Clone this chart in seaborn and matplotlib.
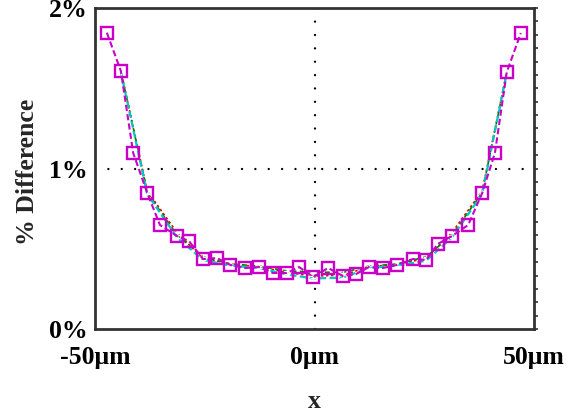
import matplotlib
matplotlib.use("Agg")
import matplotlib.pyplot as plt
import seaborn as sns
import pandas as pd
from matplotlib.ticker import MultipleLocator

sns.set_style("white")
plt.rcParams['font.family'] = ['Liberation Serif', 'DejaVu Serif']
plt.rcParams['font.weight'] = 'bold'

# Data (x in micrometres, y in %)
x_fine = [-47.3, -44.1, -41.3, -38.1, -35.2, -31.3, -28.6, -25.4, -22.2, -19.2,
          -15.8, -12.6, -9.5, -6.3, -3.5, -0.3, 3.1, 6.5, 9.5, 12.4,
          15.6, 18.8, 22.4, 25.4, 28.1, 31.3, 35.0, 38.2, 41.1, 43.8, 47.0]
magenta_y = [1.846, 1.607, 1.097, 0.847, 0.648, 0.579, 0.548, 0.436, 0.442, 0.399,
             0.380, 0.386, 0.349, 0.349, 0.386, 0.324, 0.380, 0.330, 0.343, 0.386,
             0.380, 0.399, 0.436, 0.430, 0.530, 0.579, 0.648, 0.847, 1.097, 1.601, 1.844]

x_coarse = [-44.1, -38.1, -31.3, -25.4, -19.2, -12.6, -6.3, -0.3,
            6.5, 12.4, 18.8, 25.4, 31.3, 38.2, 43.8]
red_y = [1.607, 0.860, 0.600, 0.440, 0.405, 0.388, 0.352, 0.330,
         0.335, 0.388, 0.402, 0.440, 0.600, 0.860, 1.601]
green_y = [1.607, 0.850, 0.585, 0.450, 0.405, 0.392, 0.362, 0.355,
           0.352, 0.392, 0.405, 0.450, 0.585, 0.850, 1.601]
cyan_y = [1.600, 0.840, 0.570, 0.430, 0.395, 0.380, 0.340, 0.315,
          0.320, 0.380, 0.395, 0.425, 0.570, 0.840, 1.595]

x_ticks = [-50, 0, 50]
x_tick_labels = ['-50μm', '0μm', '50μm']
y_ticks = [0, 1, 2]
y_tick_labels = ['0%', '1%', '2%']

df_fine = pd.DataFrame({'x': x_fine, 'magenta': magenta_y})
df_coarse = pd.DataFrame({'x': x_coarse, 'red': red_y, 'green': green_y, 'cyan': cyan_y})

fig = plt.figure(figsize=(5.82, 4.17), dpi=100)
ax = fig.add_axes([95/582, 1-329/417, (534-95)/582, (329-8)/417])

# dotted reference lines
dot = dict(color='black', lw=1.7, linestyle=(0, (0.01, 5.65)), dash_capstyle='round', zorder=1)
ax.axhline(1, **dot)
ax.axvline(0, **dot)

sns.lineplot(data=df_coarse, x='x', y='red', ax=ax, color='#ff0000', lw=1.2,
             linestyle=(0, (1.5, 1.5)), marker='+', markersize=4, mew=1.0, sort=False, zorder=3)
sns.lineplot(data=df_coarse, x='x', y='green', ax=ax, color='#008000', lw=1.2,
             linestyle=(0, (3, 2)), marker='+', markersize=4, mew=1.0, sort=False, zorder=3)
sns.lineplot(data=df_coarse, x='x', y='cyan', ax=ax, color='#00c8c8', lw=1.6,
             linestyle=(0, (3, 1.5)), marker='+', markersize=4, mew=1.0, sort=False, zorder=4)
sns.lineplot(data=df_fine, x='x', y='magenta', ax=ax, color='#c800c8', lw=1.5,
             linestyle=(0, (3, 1.5)), marker='s', markersize=8.5, mfc='none', mec='#c800c8',
             mew=1.7, sort=False, zorder=5)

ax.set_xlim(-50, 50)
ax.set_ylim(0, 2)
ax.set_xticks(x_ticks)
ax.set_xticklabels(x_tick_labels)
ax.set_yticks(y_ticks)
ax.set_yticklabels(y_tick_labels)

for s in ax.spines.values():
    s.set_visible(True)
    s.set_color('#333333')
    s.set_linewidth(2.0)

ax.tick_params(axis='x', which='major', direction='in', length=5, width=1.5,
               pad=12, labelsize=18.5, colors='#333333', labelcolor='black')
ax.tick_params(axis='y', which='major', direction='out', length=3, width=1.2,
               pad=2, labelsize=18.5, labelright=False, right=True,
               colors='#333333', labelcolor='black')
ax.yaxis.set_minor_locator(MultipleLocator(1/12))
ax.tick_params(axis='y', which='minor', direction='out', length=3, width=1.2,
               left=False, right=True, colors='#333333')
for lab in ax.get_xticklabels() + ax.get_yticklabels():
    lab.set_fontweight('bold')

ax.set_xlabel('x', fontsize=18.5, fontweight='bold')
ax.set_ylabel('% Difference', fontsize=18.5, fontweight='bold')
ax.xaxis.set_label_coords(0.5, -0.19)
ax.yaxis.set_label_coords(-0.128, 0.49)

fig.savefig('out.png', dpi=100)
